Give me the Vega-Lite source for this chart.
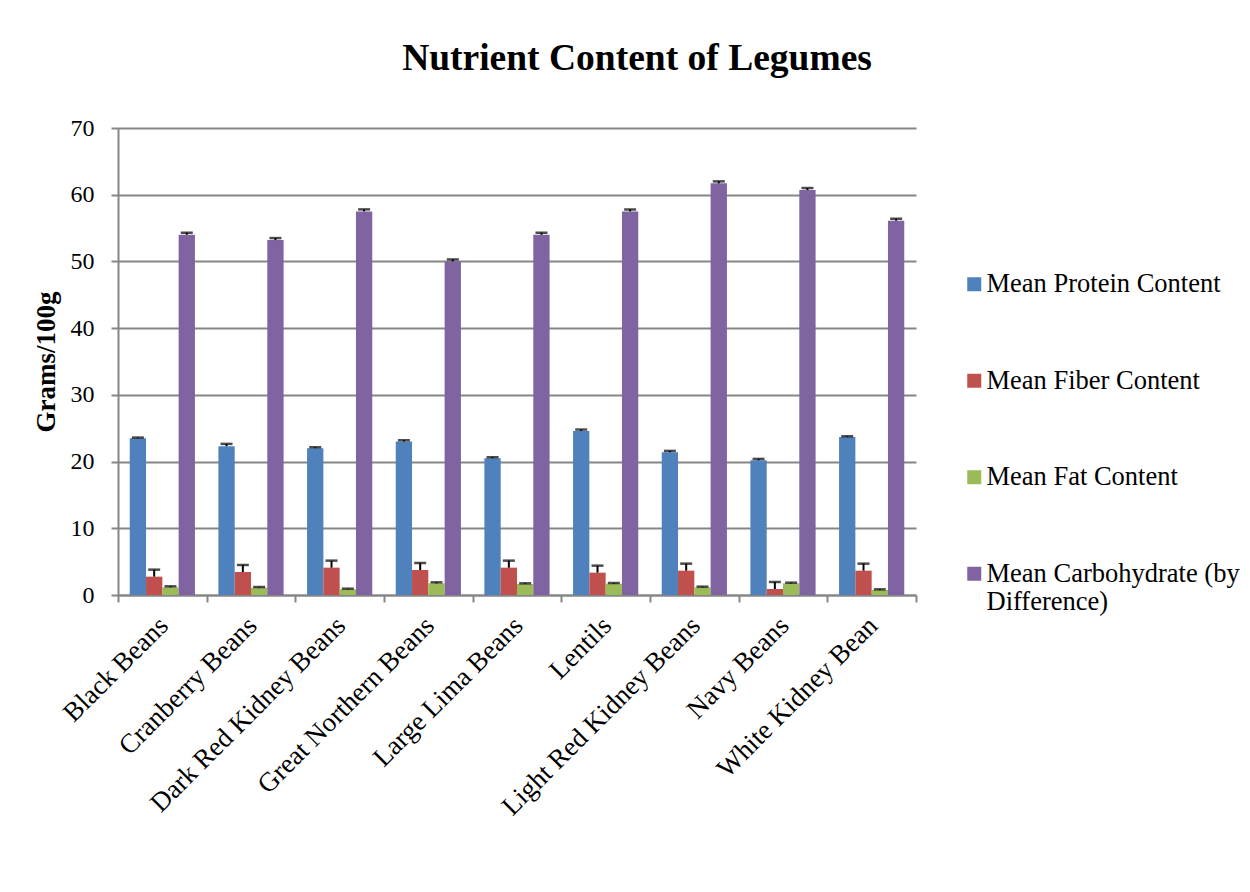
{
  "$schema": "https://vega.github.io/schema/vega-lite/v6.json",
  "autosize": "none",
  "padding": {"left": 118, "top": 128, "right": 334, "bottom": 297},
  "width": 798,
  "height": 467,
  "background": "white",
  "title": {
    "text": "Nutrient Content of Legumes",
    "font": "Liberation Serif",
    "fontSize": 37.5,
    "fontWeight": "bold",
    "color": "black",
    "anchor": "middle",
    "dx": 120,
    "baseline": "alphabetic",
    "offset": 9
  },
  "data": {
    "values": [
      {"legume": "Black Beans", "nutrient": "Mean Protein Content", "value": 23.5, "hi": 23.6},
      {"legume": "Black Beans", "nutrient": "Mean Fiber Content", "value": 2.75, "hi": 3.8},
      {"legume": "Black Beans", "nutrient": "Mean Fat Content", "value": 1.15, "hi": 1.3},
      {"legume": "Black Beans", "nutrient": "Mean Carbohydrate (by Difference)", "value": 54.0, "hi": 54.3},
      {"legume": "Cranberry Beans", "nutrient": "Mean Protein Content", "value": 22.3, "hi": 22.65},
      {"legume": "Cranberry Beans", "nutrient": "Mean Fiber Content", "value": 3.45, "hi": 4.5},
      {"legume": "Cranberry Beans", "nutrient": "Mean Fat Content", "value": 1.1, "hi": 1.2},
      {"legume": "Cranberry Beans", "nutrient": "Mean Carbohydrate (by Difference)", "value": 53.2, "hi": 53.5},
      {"legume": "Dark Red Kidney Beans", "nutrient": "Mean Protein Content", "value": 22.0, "hi": 22.15},
      {"legume": "Dark Red Kidney Beans", "nutrient": "Mean Fiber Content", "value": 4.1, "hi": 5.15},
      {"legume": "Dark Red Kidney Beans", "nutrient": "Mean Fat Content", "value": 0.85, "hi": 0.95},
      {"legume": "Dark Red Kidney Beans", "nutrient": "Mean Carbohydrate (by Difference)", "value": 57.5, "hi": 57.8},
      {"legume": "Great Northern Beans", "nutrient": "Mean Protein Content", "value": 23.0, "hi": 23.2},
      {"legume": "Great Northern Beans", "nutrient": "Mean Fiber Content", "value": 3.75, "hi": 4.8},
      {"legume": "Great Northern Beans", "nutrient": "Mean Fat Content", "value": 1.75, "hi": 1.9},
      {"legume": "Great Northern Beans", "nutrient": "Mean Carbohydrate (by Difference)", "value": 50.0, "hi": 50.3},
      {"legume": "Large Lima Beans", "nutrient": "Mean Protein Content", "value": 20.5, "hi": 20.65},
      {"legume": "Large Lima Beans", "nutrient": "Mean Fiber Content", "value": 4.1, "hi": 5.15},
      {"legume": "Large Lima Beans", "nutrient": "Mean Fat Content", "value": 1.65, "hi": 1.75},
      {"legume": "Large Lima Beans", "nutrient": "Mean Carbohydrate (by Difference)", "value": 54.0, "hi": 54.3},
      {"legume": "Lentils", "nutrient": "Mean Protein Content", "value": 24.6, "hi": 24.8},
      {"legume": "Lentils", "nutrient": "Mean Fiber Content", "value": 3.35, "hi": 4.4},
      {"legume": "Lentils", "nutrient": "Mean Fat Content", "value": 1.7, "hi": 1.8},
      {"legume": "Lentils", "nutrient": "Mean Carbohydrate (by Difference)", "value": 57.5, "hi": 57.8},
      {"legume": "Light Red Kidney Beans", "nutrient": "Mean Protein Content", "value": 21.4, "hi": 21.6},
      {"legume": "Light Red Kidney Beans", "nutrient": "Mean Fiber Content", "value": 3.65, "hi": 4.7},
      {"legume": "Light Red Kidney Beans", "nutrient": "Mean Fat Content", "value": 1.15, "hi": 1.25},
      {"legume": "Light Red Kidney Beans", "nutrient": "Mean Carbohydrate (by Difference)", "value": 61.7, "hi": 62.0},
      {"legume": "Navy Beans", "nutrient": "Mean Protein Content", "value": 20.2, "hi": 20.4},
      {"legume": "Navy Beans", "nutrient": "Mean Fiber Content", "value": 0.9, "hi": 1.95},
      {"legume": "Navy Beans", "nutrient": "Mean Fat Content", "value": 1.75, "hi": 1.85},
      {"legume": "Navy Beans", "nutrient": "Mean Carbohydrate (by Difference)", "value": 60.7, "hi": 61.0},
      {"legume": "White Kidney Bean", "nutrient": "Mean Protein Content", "value": 23.7, "hi": 23.8},
      {"legume": "White Kidney Bean", "nutrient": "Mean Fiber Content", "value": 3.65, "hi": 4.7},
      {"legume": "White Kidney Bean", "nutrient": "Mean Fat Content", "value": 0.75, "hi": 0.85},
      {"legume": "White Kidney Bean", "nutrient": "Mean Carbohydrate (by Difference)", "value": 56.1, "hi": 56.4}
    ]
  },
  "encoding": {
    "x": {
      "field": "legume",
      "type": "nominal",
      "sort": null,
      "scale": {"paddingInner": 0, "paddingOuter": 0},
      "axis": {
        "title": null,
        "labelAngle": -45,
        "labelFont": "Liberation Serif",
        "labelFontSize": 27,
        "labelColor": "black",
        "labelPadding": 10,
        "labelOffset": -8,
        "labelLimit": 400,
        "tickBand": "extent",
        "tickSize": 7,
        "tickColor": "#868686",
        "tickWidth": 2,
        "domainColor": "#868686",
        "domainWidth": 2,
        "grid": false
      }
    },
    "xOffset": {
      "field": "nutrient",
      "type": "nominal",
      "sort": ["Mean Protein Content", "Mean Fiber Content", "Mean Fat Content", "Mean Carbohydrate (by Difference)"],
      "scale": {"paddingInner": 0, "paddingOuter": 0.72}
    }
  },
  "layer": [
    {
      "mark": {"type": "bar"},
      "encoding": {
        "y": {
          "field": "value",
          "type": "quantitative",
          "scale": {"domain": [0, 70]},
          "axis": {
            "title": "Grams/100g",
            "titleFont": "Liberation Serif",
            "titleFontSize": 27,
            "titleFontWeight": "bold",
            "titleColor": "black",
            "titlePadding": 10,
            "values": [0, 10, 20, 30, 40, 50, 60, 70],
            "labelFont": "Liberation Serif",
            "labelFontSize": 24,
            "labelColor": "black",
            "labelPadding": 17,
            "tickSize": 7,
            "tickColor": "#868686",
            "tickWidth": 2,
            "domainColor": "#868686",
            "domainWidth": 2,
            "gridColor": "#868686",
            "gridWidth": 2,
            "gridOpacity": 1
          }
        },
        "color": {
          "field": "nutrient",
          "type": "nominal",
          "scale": {
            "domain": ["Mean Protein Content", "Mean Fiber Content", "Mean Fat Content", "Mean Carbohydrate (by Difference)"],
            "range": ["#4F81BD", "#C0504D", "#9BBB59", "#8064A2"]
          },
          "legend": {
            "title": null,
            "orient": "none",
            "legendX": 843,
            "legendY": 143,
            "padding": 0,
            "symbolType": "square",
            "symbolSize": 196,
            "symbolStrokeWidth": 0,
            "labelFont": "Liberation Serif",
            "labelFontSize": 26.5,
            "labelColor": "black",
            "labelOffset": -1,
            "labelLimit": 400,
            "rowPadding": 69.5,
            "labelExpr": "datum.label == 'Mean Carbohydrate (by Difference)' ? ['Mean Carbohydrate (by', 'Difference)'] : datum.label"
          }
        }
      }
    },
    {
      "mark": {"type": "rule", "color": "black", "strokeWidth": 2},
      "encoding": {
        "y": {"field": "value", "type": "quantitative"},
        "y2": {"field": "hi"}
      }
    },
    {
      "mark": {"type": "tick", "color": "black", "size": 12, "thickness": 2.5, "orient": "horizontal"},
      "encoding": {
        "y": {"field": "hi", "type": "quantitative"}
      }
    }
  ],
  "config": {
    "view": {"stroke": null},
    "font": "Liberation Serif"
  }
}
